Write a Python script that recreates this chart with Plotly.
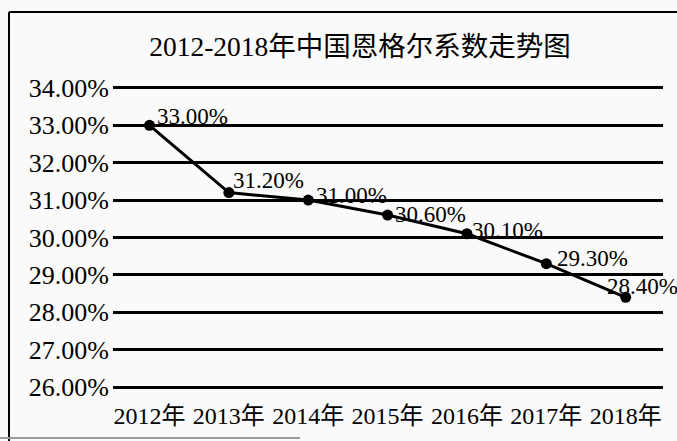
import plotly.graph_objects as go

years = ["2012年", "2013年", "2014年", "2015年", "2016年", "2017年", "2018年"]
engel = [33.00, 31.20, 31.00, 30.60, 30.10, 29.30, 28.40]
y_ticks = [26, 27, 28, 29, 30, 31, 32, 33, 34]
y_tick_text = [f"{v:.2f}%" for v in y_ticks]
title = "2012-2018年中国恩格尔系数走势图"

# per-label nudges (pixels) for the data labels, as in the reference
label_dx = [5, 2, 6, 5, 3, 9, -21]
label_dy = [9, 12, 5, 1, 3, 5, 11]

W, H = 677, 441
L, R, T, B = 113, 14, 86, 52
FONT = "Liberation Serif, Times New Roman, Noto Sans CJK SC, serif"

fig = go.Figure()
fig.add_trace(go.Scatter(
    x=years, y=engel,
    mode="lines+markers",
    line=dict(color="black", width=3),
    marker=dict(color="black", size=11),
    cliponaxis=False,
    showlegend=False,
    hoverinfo="skip",
))

for xv, yv, dx, dy in zip(years, engel, label_dx, label_dy):
    fig.add_annotation(x=xv, y=yv, text=f"{yv:.2f}%", showarrow=False,
                       xanchor="left", yanchor="middle", xshift=dx, yshift=dy,
                       font=dict(family=FONT, size=23, color="black"))

pw = W - L - R
ph = H - T - B
def px_x(p):
    return (p - L) / pw
def px_y(p):
    return 1 - (p - T) / ph

# scanned frame: left and top edges
fig.add_shape(type="line", xref="paper", yref="paper",
              x0=px_x(9), x1=px_x(9), y0=px_y(441), y1=px_y(12),
              line=dict(color="black", width=2), layer="below")
fig.add_shape(type="line", xref="paper", yref="paper",
              x0=px_x(9), x1=px_x(677), y0=px_y(12), y1=px_y(12),
              line=dict(color="black", width=2), layer="below")
fig.add_shape(type="line", xref="paper", yref="paper",
              x0=px_x(0), x1=px_x(300), y0=px_y(438), y1=px_y(438),
              line=dict(color="#9a9a9a", width=2), layer="below")

fig.update_layout(
    width=W, height=H,
    margin=dict(l=L, r=R, t=T, b=B),
    paper_bgcolor="#fbfafa", plot_bgcolor="#fbfafa",
    title=dict(text=title, x=(360 / W), xanchor="center", y=1 - 46 / H, yanchor="middle",
               yref="container",
               font=dict(family=FONT, size=27.5, color="black")),
    xaxis=dict(type="category", range=[-0.46, 6.47], showgrid=False, zeroline=False,
               showline=False, ticks="", ticklabelstandoff=10,
               tickfont=dict(family=FONT, size=24, color="black")),
    yaxis=dict(range=[25.95, 34.05], tickvals=y_ticks, ticktext=y_tick_text,
               showgrid=True, gridcolor="black", gridwidth=2.5, zeroline=False,
               showline=False, ticks="", ticklabelstandoff=3,
               tickfont=dict(family=FONT, size=26, color="black")),
)

fig.write_html("out.html", config={"displayModeBar": False},
               post_script="document.body.style.margin='0px';")
